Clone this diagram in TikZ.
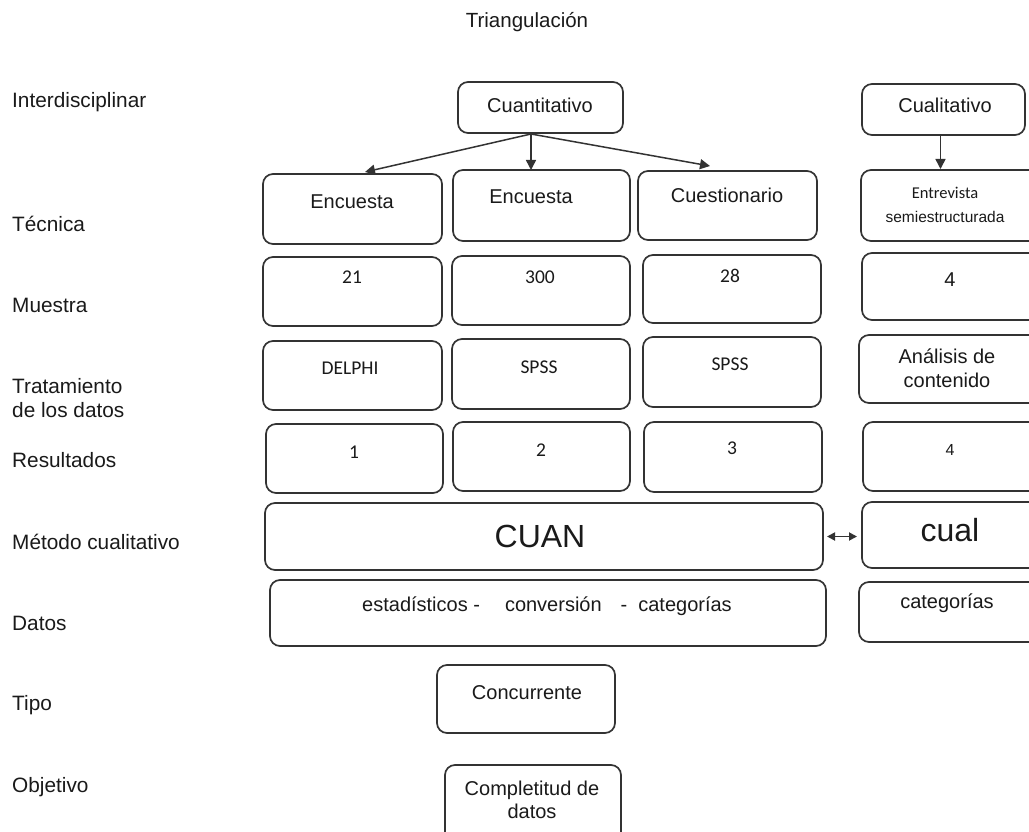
\documentclass[tikz,border=0pt]{standalone}
\usepackage{fontspec}
\setmainfont{Liberation Sans}
\newfontfamily\calib{Carlito}
\usetikzlibrary{arrows.meta}
\definecolor{linec}{HTML}{333333}
\definecolor{textc}{HTML}{1A1A1A}
\newcommand{\mybox}[5]{\node[box, minimum width={#4-#2}, minimum height={#5-#3}] (#1) at ({(#2+#4)/2},{(#3+#5)/2}) {};}
\begin{document}
\begin{tikzpicture}[x=1pt,y=-1pt,
  box/.style={draw=linec, line width=1.7pt, rounded corners=10pt, inner sep=0pt, outer sep=0pt},
  txt/.style={font=\fontsize{20}{23.5}\selectfont, text=textc, inner sep=0pt, align=center},
  ctxt/.style={font=\calib\fontsize{19.5}{23}\selectfont, text=textc, inner sep=0pt, align=center},
  bigtxt/.style={font=\fontsize{32}{36}\selectfont, text=textc, inner sep=0pt},
  lbl/.style={font=\fontsize{20.8}{23.5}\selectfont, text=textc, anchor=west, inner sep=0pt, align=left},
  arr/.style={draw=linec, line width=1.5pt, -{Triangle[length=10pt,width=10pt]}},
  darr/.style={draw=linec, line width=1.8pt, {Triangle[length=8pt,width=8pt]}-{Triangle[length=8pt,width=8pt]}}
]
\useasboundingbox (0,0) rectangle (1029,832);
\clip (0,0) rectangle (1029,832);
\fill[white] (0,0) rectangle (1029,832);

% title
\node[txt, font=\fontsize{20.5}{23}\selectfont] (title) at (527,22) {Triangulación};

% row labels
\node[lbl] (l1) at (12,102) {Interdisciplinar};
\node[lbl] (l2) at (12,224) {Técnica};
\node[lbl] (l3) at (12,305) {Muestra};
\node[lbl] (l4) at (12,398) {Tratamiento\\de los datos};
\node[lbl] (l5) at (12,460) {Resultados};
\node[lbl] (l6) at (12,542) {Método cualitativo};
\node[lbl] (l7) at (12,623) {Datos};
\node[lbl] (l8) at (12,705) {Tipo};
\node[lbl] (l9) at (12,787) {Objetivo};

% boxes
\mybox{cuant}{458}{82}{623}{133}
\mybox{cualt}{862}{84}{1025}{135}
\mybox{enc1}{263}{174}{442}{244}
\mybox{enc2}{453}{170}{630}{241}
\mybox{cuest}{638}{171}{817}{240}
\mybox{entr}{861}{170}{1045}{241}
\mybox{m21}{263}{257}{442}{326}
\mybox{m300}{452}{256}{630}{325}
\mybox{m28}{643}{255}{821}{323}
\mybox{m4}{862}{253}{1045}{320}
\mybox{delphi}{263}{341}{442}{410}
\mybox{spssa}{452}{339}{630}{409}
\mybox{spssb}{643}{337}{821}{407}
\mybox{anal}{859}{335}{1045}{403}
\mybox{r1}{266}{424}{443}{493}
\mybox{r2}{453}{422}{630}{491}
\mybox{r3}{644}{422}{822}{492}
\mybox{r4}{863}{422}{1045}{491}
\mybox{cuan}{265}{503}{823}{570}
\mybox{cualb}{862}{502}{1045}{568}
\mybox{datos}{270}{580}{826}{646}
\mybox{cat}{859}{582}{1045}{642}
\mybox{conc}{437}{665}{615}{733}
\mybox{compl}{445}{765}{621}{850}

% box texts
\node[txt] (cuant-t) at (540,105) {Cuantitativo};
\node[txt] (cualt-t) at (945,105) {Cualitativo};
\node[txt] (enc1-t) at (352,202) {Encuesta};
\node[txt] (enc2-t) at (531,197) {Encuesta};
\node[txt] (cuest-t) at (727,195) {Cuestionario};
\node[ctxt, font=\calib\fontsize{16.5}{20}\selectfont] (entr-t1) at (945,193) {Entrevista};
\node[txt, font=\fontsize{15.5}{19}\selectfont] (entr-t2) at (945,217) {semiestructurada};
\node[ctxt] (m21-t) at (352,277) {21};
\node[ctxt] (m300-t) at (540,277) {300};
\node[ctxt] (m28-t) at (730,276) {28};
\node[txt] (m4-t) at (950,280) {4};
\node[ctxt] (delphi-t) at (350,368) {DELPHI};
\node[ctxt] (spssa-t) at (539,367) {SPSS};
\node[ctxt] (spssb-t) at (730,364) {SPSS};
\node[txt] (anal-t) at (947,368) {Análisis de\\contenido};
\node[ctxt] (r1-t) at (354,452) {1};
\node[ctxt] (r2-t) at (541,450) {2};
\node[ctxt] (r3-t) at (732,448) {3};
\node[txt, font=\fontsize{16}{20}\selectfont] (r4-t) at (950,450) {4};
\node[bigtxt] (cuan-t) at (540,536) {CUAN};
\node[bigtxt] (cualb-t) at (950,530) {cual};
\node[txt] (datos-t) at (547,606) {estadísticos -\hspace{25pt}conversión\hspace{19pt}-\hspace{11pt}categorías};
\node[txt] (cat-t) at (947,603) {categorías};
\node[txt] (conc-t) at (527,693) {Concurrente};
\node[txt] (compl-t) at (532,800) {Completitud de\\datos};

% connectors
\coordinate (cs) at (531,134);
\coordinate (a1) at (365,172);
\coordinate (a2) at (531,170);
\coordinate (a3) at (710,166);
\draw[arr] (cs) -- (a1);
\draw[arr] (cs) -- (a2);
\draw[arr] (cs) -- (a3);
\draw[arr] ([xshift=-3pt]cualt.south) -- ([xshift=-3pt,yshift=1pt]cualt.south |- entr.north);
\draw[darr] ([xshift=4pt]cuan.east) -- ([xshift=-5pt]cuan.east -| cualb.west);
\end{tikzpicture}
\end{document}
